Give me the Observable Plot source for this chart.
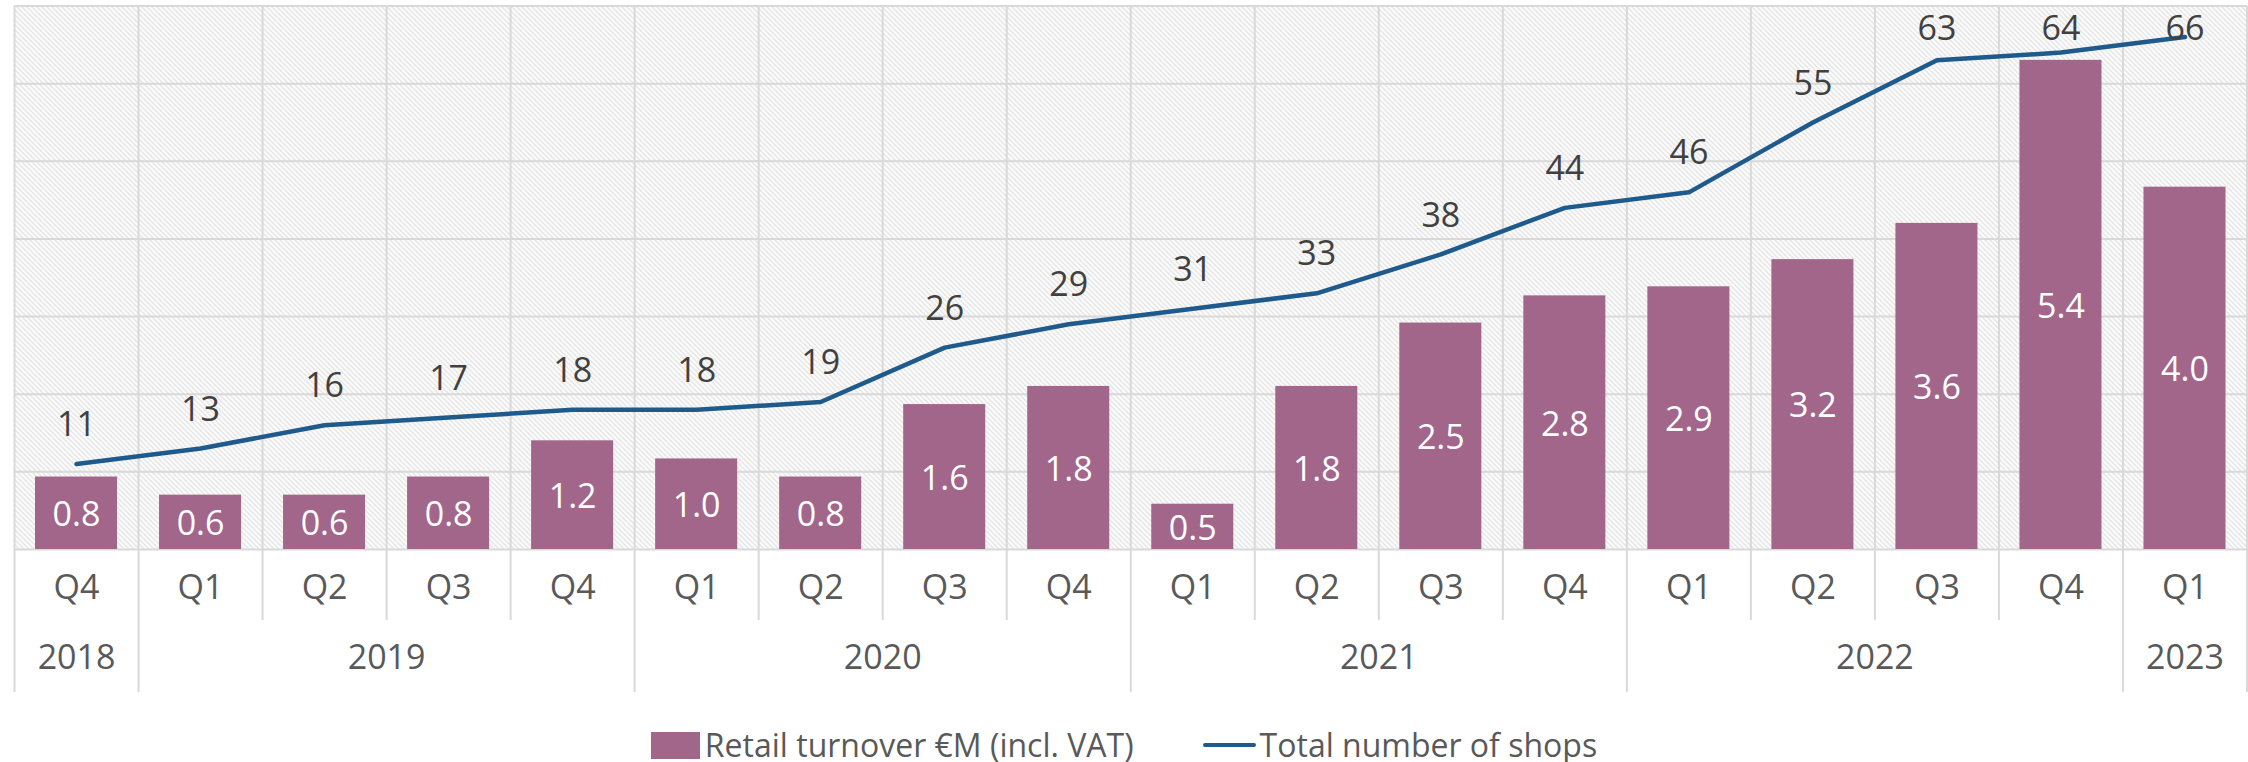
<!DOCTYPE html>
<html>
<head>
<meta charset="utf-8">
<script src="https://cdn.jsdelivr.net/npm/d3@7"></script>
<script src="https://cdn.jsdelivr.net/npm/@observablehq/plot@0.6"></script>
<style>
  html, body { margin: 0; padding: 0; background: #ffffff; overflow: hidden; }
  #chart svg { display: block; }
  .legend { display: flex; justify-content: center; align-items: center; padding-top: 18px;
            font-family: "Open Sans", sans-serif; font-size: 32px; color: #595959; line-height: 34px; }
  .item { display: flex; align-items: center; }
  .swatch-bar { width: 49px; height: 27px; margin-right: 5px; }
  .swatch-line { width: 53px; height: 4px; margin-right: 4px; border-radius: 2px; }
  .gap { width: 69px; }
</style>
</head>
<body>
<div id="chart"></div>
<div class="legend" id="legend"></div>
<script>
// ---- data ----
const quarters = ["Q4","Q1","Q2","Q3","Q4","Q1","Q2","Q3","Q4","Q1","Q2","Q3","Q4","Q1","Q2","Q3","Q4","Q1"];
const years    = ["2018","2019","2019","2019","2019","2020","2020","2020","2020","2021","2021","2021","2021","2022","2022","2022","2022","2023"];
const turnover = [0.8,0.6,0.6,0.8,1.2,1.0,0.8,1.6,1.8,0.5,1.8,2.5,2.8,2.9,3.2,3.6,5.4,4.0];
const shops    = [11,13,16,17,18,18,19,26,29,31,33,38,44,46,55,63,64,66];
const seriesNames = ["Retail turnover €M (incl. VAT)", "Total number of shops"];
const shopTicks = [0,10,20,30,40,50,60,70];
const barAxisMax = 6;   // primary (hidden) axis for turnover
const lineAxisMax = 70; // secondary (hidden) axis for shops
const labelOffset = 5;  // line labels sit this many shops above the point
const labelCeiling = 67; // ...but never above this level (kept inside the chart)

// ---- styles ----
const barColor = "#A2668B";
const lineColor = "#1F5A8C";
const gridColor = "#D9D9D9";
const axisText = "#595959";
const labelText = "#404040";
const font = "Open Sans";
const fs = 34;

const toLine = v => v * lineAxisMax / barAxisMax;

const rows = quarters.map((q, i) => ({i, q, year: years[i], turnover: turnover[i], shops: shops[i]}));
const n = rows.length;

// year groups
const yearGroups = [];
rows.forEach(r => {
  const g = yearGroups[yearGroups.length - 1];
  if (g && g.year === r.year) g.end = r.i + 1;
  else yearGroups.push({year: r.year, start: r.i, end: r.i + 1});
});
const boundaries = d3.range(n + 1);
const yearBoundaries = new Set(yearGroups.flatMap(g => [g.start, g.end]));
const minorBoundaries = boundaries.filter(b => !yearBoundaries.has(b));
const majorBoundaries = boundaries.filter(b => yearBoundaries.has(b));

const W = 2248, H = 710;
const marginTop = 5.5, marginBottom = H - 549, marginLeft = 14, marginRight = 1.5;

const plot = Plot.plot({
  width: W,
  height: H,
  marginTop, marginBottom, marginLeft, marginRight,
  style: {fontFamily: font, background: "#ffffff"},
  x: {type: "linear", domain: [0, n], axis: null},
  y: {type: "linear", domain: [0, lineAxisMax], axis: null},
  marks: [
    Plot.frame({fill: "url(#hatch)", stroke: "none"}),
    Plot.ruleY(shopTicks, {stroke: gridColor, strokeWidth: 2}),
    Plot.ruleX(minorBoundaries, {stroke: gridColor, strokeWidth: 2, insetBottom: -71}),
    Plot.ruleX(majorBoundaries, {stroke: gridColor, strokeWidth: 2, insetBottom: -143}),
    Plot.rectY(rows, {x1: d => d.i, x2: d => d.i + 1, y1: 0, y2: d => toLine(d.turnover),
      fill: barColor, insetLeft: 21, insetRight: 21}),
    Plot.text(rows, {x: d => d.i + 0.5, y: d => toLine(d.turnover) / 2, text: d => d.turnover.toFixed(1),
      fill: "#ffffff", fontSize: fs, dy: 2}),
    Plot.line(rows, {x: d => d.i + 0.5, y: "shops", stroke: lineColor, strokeWidth: 4.5,
      strokeLinecap: "round", strokeLinejoin: "round"}),
    Plot.text(rows, {x: d => d.i + 0.5, y: d => Math.min(d.shops + labelOffset, labelCeiling),
      text: d => String(d.shops), fill: labelText, fontSize: fs}),
    Plot.text(rows, {x: d => d.i + 0.5, text: "q", frameAnchor: "bottom", dy: 49,
      fill: axisText, fontSize: fs}),
    Plot.text(yearGroups, {x: d => (d.start + d.end) / 2, text: "year", frameAnchor: "bottom", dy: 119,
      fill: axisText, fontSize: fs})
  ]
});

// hatch pattern (light downward diagonal)
const ns = "http://www.w3.org/2000/svg";
const defs = document.createElementNS(ns, "defs");
defs.innerHTML = `<pattern id="hatch" patternUnits="userSpaceOnUse" width="5" height="5">
  <rect width="5" height="5" fill="#ffffff"/>
  <path d="M-1,-1 L6,6 M-1,4 L1,6 M4,-1 L6,1" stroke="#D9D9D9" stroke-width="1.2"/>
</pattern>`;
plot.insertBefore(defs, plot.firstChild);
document.getElementById("chart").appendChild(plot);

// legend
const legend = document.getElementById("legend");
legend.innerHTML = `
  <div class="item"><div class="swatch-bar" style="background:${barColor}"></div><span>${seriesNames[0]}</span></div>
  <div class="gap"></div>
  <div class="item"><div class="swatch-line" style="background:${lineColor}"></div><span>${seriesNames[1]}</span></div>`;
</script>
</body>
</html>
